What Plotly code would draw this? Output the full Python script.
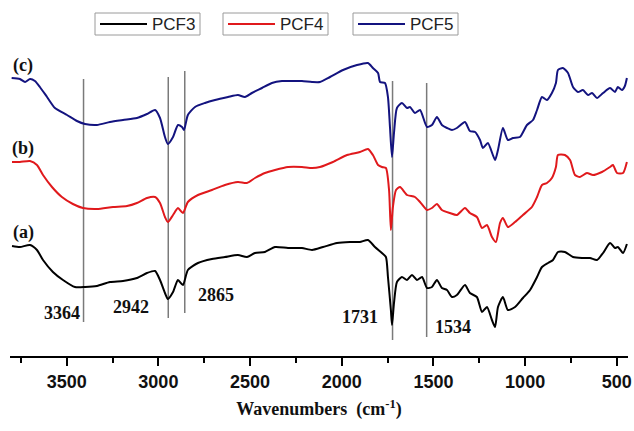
import plotly.graph_objects as go

# ---- data (wavenumber cm^-1, relative intensity a.u.) ----
pcf5_wn = [3800, 3755, 3727, 3700, 3673, 3646, 3607, 3564, 3498, 3444, 3400, 3335, 3264, 3193, 3117, 3062, 3018,
           2991, 2964, 2948, 2920, 2893, 2871, 2860, 2839, 2800, 2746, 2691, 2620, 2566, 2528, 2490, 2435, 2381,
           2326, 2271, 2217, 2162, 2119, 2064, 1993, 1917, 1857, 1830, 1802, 1791, 1764, 1748, 1737, 1726, 1715,
           1699, 1672, 1644, 1628, 1601, 1573, 1535, 1508, 1481, 1454, 1426, 1399, 1372, 1328, 1301, 1273, 1246,
           1230, 1203, 1164, 1148, 1121, 1094, 1066, 1028, 990, 957, 935, 908, 881, 854, 832, 821, 794, 766, 739,
           712, 685, 657, 635, 608, 575, 537, 510, 494, 472, 456, 445]
pcf5_val = [278, 277, 274, 277, 275, 269, 259, 248, 241, 235, 232, 231, 234, 236, 238, 242, 246,
            238, 219, 212, 219, 231, 229, 226, 241, 249, 253, 256, 259, 261, 259, 263, 268, 273,
            275, 275, 275, 274, 274, 279, 286, 291, 293, 288, 283, 274, 273, 259, 229, 199, 223,
            248, 253, 248, 249, 243, 246, 229, 231, 239, 231, 228, 226, 228, 234, 225, 224, 216,
            208, 213, 196, 206, 228, 216, 218, 219, 231, 236, 246, 259, 256, 263, 273, 286, 288, 283, 269,
            264, 266, 261, 263, 258, 263, 268, 264, 269, 266, 270, 278]

pcf4_wn = [3798, 3755, 3700, 3662, 3629, 3580, 3526, 3466, 3411, 3335, 3247, 3171, 3117, 3062, 3018, 2991, 2964,
           2948, 2920, 2893, 2866, 2839, 2784, 2708, 2637, 2566, 2517, 2473, 2419, 2364, 2293, 2217, 2162, 2119,
           2048, 1971, 1901, 1857, 1830, 1802, 1781, 1759, 1742, 1732, 1721, 1704, 1682, 1644, 1601, 1573, 1535,
           1508, 1481, 1454, 1410, 1372, 1328, 1301, 1263, 1235, 1208, 1181, 1159, 1137, 1121, 1094, 1055, 1012,
           963, 935, 908, 881, 854, 832, 821, 783, 755, 728, 701, 663, 630, 581, 537, 521, 499, 466, 445]
pcf4_val = [194, 194, 195, 191, 181, 169, 159, 152, 148, 147, 149, 150, 153, 158, 159, 153, 139,
            134, 141, 148, 143, 154, 161, 166, 171, 174, 173, 178, 183, 186, 189, 189, 188, 189,
            194, 201, 204, 207, 201, 191, 189, 188, 166, 126, 149, 166, 169, 161, 159, 154, 146,
            148, 152, 146, 143, 141, 148, 143, 139, 128, 131, 119, 114, 133, 138, 129, 134, 141,
            149, 159, 171, 173, 178, 189, 201, 201, 196, 181, 179, 183, 181, 184, 189, 191, 183, 183, 194]

pcf3_wn = [3798, 3755, 3700, 3662, 3629, 3575, 3520, 3455, 3400, 3335, 3264, 3193, 3117, 3062, 3018, 2991, 2964,
           2948, 2920, 2893, 2866, 2839, 2784, 2708, 2637, 2566, 2517, 2473, 2419, 2364, 2293, 2217, 2162, 2102,
           2026, 1955, 1901, 1857, 1819, 1781, 1759, 1748, 1732, 1726, 1715, 1699, 1672, 1644, 1617, 1590, 1562,
           1535, 1508, 1481, 1454, 1426, 1399, 1372, 1328, 1301, 1263, 1235, 1208, 1181, 1164, 1148, 1121, 1094,
           1055, 1012, 973, 935, 908, 875, 848, 821, 783, 739, 690, 646, 608, 575, 537, 510, 494, 466, 445]
pcf3_val = [110, 109, 111, 106, 96, 84, 76, 69, 69, 70, 74, 75, 78, 83, 85, 76, 63,
            57, 64, 76, 71, 86, 93, 97, 99, 101, 99, 103, 104, 109, 108, 108, 106, 109,
            113, 114, 114, 116, 109, 103, 99, 79, 46, 31, 53, 74, 79, 76, 81, 76, 79,
            68, 69, 76, 68, 66, 59, 61, 71, 63, 59, 44, 49, 36, 29, 49, 59, 46,
            49, 58, 66, 79, 89, 93, 96, 104, 104, 99, 98, 98, 96, 103, 113, 108, 109, 103, 112]

series_names = ["PCF3", "PCF4", "PCF5"]
series_colors = ["#000000", "#e0191c", "#13137f"]
panel_labels = ["(a)", "(b)", "(c)"]
panel_label_pos = [124, 208, 291]

peak_labels = ["3364", "2942", "2865", "1731", "1534"]
peak_line_wn = [3408, 2946, 2856, 1723, 1537]
peak_line_bottom = [34, 38, 43, 16, 19]
peak_line_top = [277, 279, 285, 275, 273]
peak_label_wn = [3526, 3149, 2686, 1901, 1393]
peak_label_val = [43, 49, 61, 39, 29]

tick_vals = [3500, 3000, 2500, 2000, 1500, 1000, 500]

fig = go.Figure()
for wn, val, name, col in zip([pcf3_wn, pcf4_wn, pcf5_wn], [pcf3_val, pcf4_val, pcf5_val],
                              series_names, series_colors):
    fig.add_trace(go.Scatter(x=wn, y=val, mode="lines", name=name,
                             line=dict(color=col, width=2, shape="spline", smoothing=0.6),
                             showlegend=False))

shapes = []
for x, y0, y1 in zip(peak_line_wn, peak_line_bottom, peak_line_top):
    shapes.append(dict(type="line", xref="x", yref="y", x0=x, x1=x, y0=y0, y1=y1,
                       line=dict(color="#7a7a7a", width=1.5), layer="below"))

annotations = []
serif = "Liberation Serif, Times New Roman, serif"
for t, x, y in zip(peak_labels, peak_label_wn, peak_label_val):
    annotations.append(dict(text=t, x=x, y=y, xref="x", yref="y", showarrow=False,
                            font=dict(family=serif, size=18, color="#111", weight="bold")))
for t, y in zip(panel_labels, panel_label_pos):
    annotations.append(dict(text=t, x=3738, y=y, xref="x", yref="y", showarrow=False,
                            font=dict(family=serif, size=18, color="#111", weight="bold")))

# legend boxes (paper coords; plot area spans px 10..628 horizontally, rows 0..356)
W0, W1, H = 10, 628, 356
def px(xp):
    return (xp - W0) / (W1 - W0)
def py(row):
    return (H - row) / H

box_left = [95, 223, 353]
for bl, name, col in zip(box_left, series_names, series_colors):
    shapes.append(dict(type="rect", xref="paper", yref="paper", x0=px(bl), x1=px(bl + 105),
                       y0=py(35), y1=py(13), line=dict(color="#9a9a9a", width=1), fillcolor="white"))
    shapes.append(dict(type="line", xref="paper", yref="paper", x0=px(bl + 5), x1=px(bl + 52),
                       y0=py(24), y1=py(24), line=dict(color=col, width=2)))
    annotations.append(dict(text=name, x=px(bl + 55), y=py(24.5), xref="paper", yref="paper",
                            xanchor="left", yanchor="middle", showarrow=False,
                            font=dict(family="Liberation Sans, Arial, sans-serif", size=17, color="#222")))

fig.update_layout(
    width=634, height=431,
    margin=dict(l=10, r=6, t=0, b=75),
    paper_bgcolor="white", plot_bgcolor="white",
    shapes=shapes, annotations=annotations,
    xaxis=dict(range=[3809, 439], tickvals=tick_vals, ticks="outside", ticklen=8, tickwidth=2,
               tickcolor="black", showline=True, linecolor="black", linewidth=2, showgrid=False,
               zeroline=False,
               tickfont=dict(family="Liberation Sans, Arial, sans-serif", size=18, color="#111",
                             weight="bold"),
               minor=dict(ticks="outside", ticklen=5, tickwidth=2, tickcolor="black", dtick=250,
                          tick0=0, showgrid=False),
               title=dict(text="Wavenumbers  (cm<sup>-1</sup>)", standoff=12,
                          font=dict(family=serif, size=18, color="#111", weight="bold"))),
    yaxis=dict(range=[0, 356], visible=False),
)

fig.write_html("out.html")
